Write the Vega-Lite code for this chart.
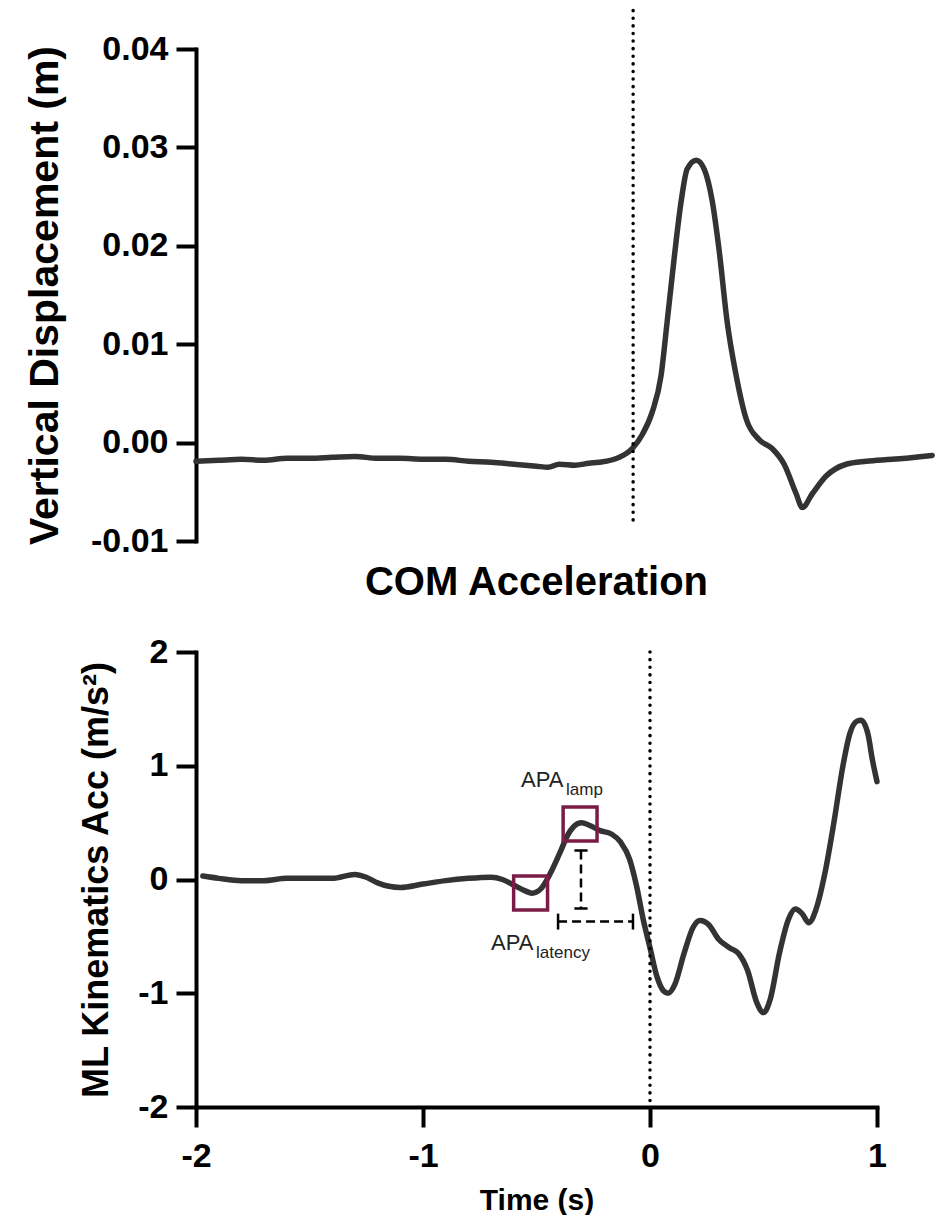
{
  "$schema": "https://vega.github.io/schema/vega-lite/v6.json",
  "background": "white",
  "padding": {"left": 24, "top": 8, "right": 0, "bottom": 0},
  "spacing": 5,
  "config": {
    "view": {"stroke": null},
    "font": "Liberation Sans",
    "axis": {
      "domainColor": "black", "domainWidth": 4, "domainCap": "square",
      "tickColor": "black", "tickWidth": 4, "tickSize": 20,
      "labelFont": "Liberation Sans", "labelFontWeight": "bold", "labelFontSize": 34, "labelColor": "black",
      "titleFont": "Liberation Sans", "titleFontWeight": "bold", "titleColor": "black",
      "grid": false, "labelFlush": false, "labelOverlap": false
    }
  },
  "datasets": {
    "disp": [
      {"t": -2.0, "v": -0.0019}, {"t": -1.9, "v": -0.0018}, {"t": -1.8, "v": -0.0017}, {"t": -1.7, "v": -0.0018},
      {"t": -1.6, "v": -0.0016}, {"t": -1.5, "v": -0.0016}, {"t": -1.4, "v": -0.0015}, {"t": -1.3, "v": -0.0014},
      {"t": -1.2, "v": -0.0016}, {"t": -1.1, "v": -0.0016}, {"t": -1.0, "v": -0.0017}, {"t": -0.9, "v": -0.0017},
      {"t": -0.8, "v": -0.0019}, {"t": -0.7, "v": -0.002}, {"t": -0.6, "v": -0.0022}, {"t": -0.5, "v": -0.0024},
      {"t": -0.45, "v": -0.0025}, {"t": -0.4, "v": -0.0022}, {"t": -0.33, "v": -0.0023}, {"t": -0.27, "v": -0.0021},
      {"t": -0.225, "v": -0.002}, {"t": -0.137, "v": -0.0015}, {"t": -0.079, "v": -0.0006}, {"t": -0.035, "v": 0.0008},
      {"t": 0.009, "v": 0.0031}, {"t": 0.048, "v": 0.0068}, {"t": 0.075, "v": 0.0123}, {"t": 0.106, "v": 0.0188},
      {"t": 0.137, "v": 0.0246}, {"t": 0.163, "v": 0.0278}, {"t": 0.203, "v": 0.0287}, {"t": 0.238, "v": 0.0278},
      {"t": 0.273, "v": 0.0246}, {"t": 0.304, "v": 0.0195}, {"t": 0.339, "v": 0.0123}, {"t": 0.379, "v": 0.0068},
      {"t": 0.423, "v": 0.0024}, {"t": 0.48, "v": 0.0003}, {"t": 0.537, "v": -0.0006}, {"t": 0.59, "v": -0.0022},
      {"t": 0.643, "v": -0.0052}, {"t": 0.67, "v": -0.0066}, {"t": 0.714, "v": -0.0052}, {"t": 0.775, "v": -0.0034},
      {"t": 0.863, "v": -0.0022}, {"t": 0.952, "v": -0.0019}, {"t": 1.066, "v": -0.0017}, {"t": 1.242, "v": -0.0013}
    ],
    "dispMarker": [{"t": -0.075, "v": 0.0439, "v2": -0.0079}],
    "acc": [
      {"t": -1.97, "v": 0.03}, {"t": -1.9, "v": 0.01}, {"t": -1.8, "v": -0.01}, {"t": -1.7, "v": -0.01},
      {"t": -1.6, "v": 0.01}, {"t": -1.5, "v": 0.01}, {"t": -1.4, "v": 0.01}, {"t": -1.3, "v": 0.045},
      {"t": -1.25, "v": 0.02}, {"t": -1.2, "v": -0.03}, {"t": -1.1, "v": -0.07}, {"t": -1.0, "v": -0.04},
      {"t": -0.9, "v": -0.01}, {"t": -0.8, "v": 0.01}, {"t": -0.7, "v": 0.02}, {"t": -0.65, "v": 0.0},
      {"t": -0.6, "v": -0.05}, {"t": -0.55, "v": -0.1}, {"t": -0.52, "v": -0.12}, {"t": -0.48, "v": -0.08},
      {"t": -0.44, "v": 0.05}, {"t": -0.4, "v": 0.22}, {"t": -0.36, "v": 0.4}, {"t": -0.32, "v": 0.49},
      {"t": -0.3, "v": 0.5}, {"t": -0.26, "v": 0.47}, {"t": -0.22, "v": 0.43}, {"t": -0.17, "v": 0.4},
      {"t": -0.13, "v": 0.33}, {"t": -0.09, "v": 0.18}, {"t": -0.06, "v": -0.05}, {"t": -0.03, "v": -0.35},
      {"t": 0.0, "v": -0.6}, {"t": 0.03, "v": -0.85}, {"t": 0.06, "v": -0.98}, {"t": 0.08, "v": -1.0},
      {"t": 0.11, "v": -0.92}, {"t": 0.15, "v": -0.65}, {"t": 0.19, "v": -0.42}, {"t": 0.22, "v": -0.36},
      {"t": 0.26, "v": -0.4}, {"t": 0.3, "v": -0.52}, {"t": 0.35, "v": -0.6}, {"t": 0.39, "v": -0.65},
      {"t": 0.43, "v": -0.8}, {"t": 0.47, "v": -1.08}, {"t": 0.5, "v": -1.17}, {"t": 0.53, "v": -1.05},
      {"t": 0.57, "v": -0.65}, {"t": 0.61, "v": -0.35}, {"t": 0.64, "v": -0.26}, {"t": 0.67, "v": -0.3},
      {"t": 0.7, "v": -0.38}, {"t": 0.73, "v": -0.27}, {"t": 0.77, "v": 0.05}, {"t": 0.81, "v": 0.5},
      {"t": 0.85, "v": 1.0}, {"t": 0.88, "v": 1.28}, {"t": 0.91, "v": 1.39}, {"t": 0.93, "v": 1.4},
      {"t": 0.96, "v": 1.28}, {"t": 0.98, "v": 1.05}, {"t": 1.0, "v": 0.86}
    ],
    "accMarker": [{"t": 0, "v": 2, "v2": -2}],
    "boxes": [{"t": -0.526, "v": -0.119}, {"t": -0.308, "v": 0.488}],
    "dashSegs": [
      {"t": -0.304, "t2": -0.304, "v": 0.255, "v2": -0.255},
      {"t": -0.405, "t2": -0.075, "v": -0.369, "v2": -0.369}
    ],
    "caps": [
      {"t": -0.333, "t2": -0.275, "v": 0.255, "v2": 0.255},
      {"t": -0.333, "t2": -0.275, "v": -0.255, "v2": -0.255},
      {"t": -0.405, "t2": -0.405, "v": -0.3, "v2": -0.44},
      {"t": -0.075, "t2": -0.075, "v": -0.3, "v2": -0.44}
    ],
    "labelsMain": [{"t": -0.568, "v": 0.809, "text": "APA"}, {"t": -0.7, "v": -0.624, "text": "APA"}],
    "labelsSub": [{"t": -0.37, "v": 0.74, "text": "lamp"}, {"t": -0.502, "v": -0.686, "text": "latency"}]
  },
  "vconcat": [
    {
      "width": 738,
      "height": 492,
      "layer": [
        {
          "data": {"name": "disp"},
          "mark": {"type": "line", "color": "#333333", "strokeWidth": 5.5, "strokeCap": "round", "strokeJoin": "round", "interpolate": "monotone"},
          "encoding": {
            "x": {"field": "t", "type": "quantitative", "scale": {"domain": [-2, 1.25], "nice": false, "zero": false}, "axis": null},
            "y": {"field": "v", "type": "quantitative", "scale": {"domain": [-0.01, 0.04], "nice": false, "zero": false},
              "axis": {"values": [-0.01, 0, 0.01, 0.02, 0.03, 0.04], "format": ".2f", "labelExpr": "replace(datum.label, '−', '-')",
                "title": "Vertical Displacement (m)", "titleFontSize": 41, "titlePadding": 24, "labelPadding": 8}}
          }
        },
        {
          "data": {"name": "dispMarker"},
          "mark": {"type": "rule", "color": "black", "strokeWidth": 3.5, "strokeCap": "round", "strokeDash": [0.1, 7.5], "clip": false},
          "encoding": {
            "x": {"field": "t", "type": "quantitative"},
            "y": {"field": "v", "type": "quantitative"},
            "y2": {"field": "v2"}
          }
        }
      ]
    },
    {
      "width": 681,
      "height": 455,
      "title": {"text": "COM Acceleration", "fontSize": 40, "fontWeight": "bold", "font": "Liberation Sans", "color": "black", "anchor": "middle", "frame": "group", "baseline": "alphabetic", "offset": 0},
      "layer": [
        {
          "data": {"name": "acc"},
          "mark": {"type": "line", "color": "#333333", "strokeWidth": 5.5, "strokeCap": "round", "strokeJoin": "round", "interpolate": "monotone"},
          "encoding": {
            "x": {"field": "t", "type": "quantitative", "scale": {"domain": [-2, 1], "nice": false, "zero": false},
              "axis": {"values": [-2, -1, 0, 1], "format": "d", "labelExpr": "replace(datum.label, '−', '-')",
                "title": "Time (s)", "titleFontSize": 30, "labelPadding": 12, "titlePadding": 12}},
            "y": {"field": "v", "type": "quantitative", "scale": {"domain": [-2, 2], "nice": false, "zero": false},
              "axis": {"values": [-2, -1, 0, 1, 2], "format": "d", "labelExpr": "replace(datum.label, '−', '-')",
                "title": "ML Kinematics Acc (m/s²)", "titleFontSize": 36, "titlePadding": 22, "labelPadding": 8}}
          }
        },
        {
          "data": {"name": "accMarker"},
          "mark": {"type": "rule", "color": "black", "strokeWidth": 3.5, "strokeCap": "round", "strokeDash": [0.1, 7.5], "clip": false},
          "encoding": {
            "x": {"field": "t", "type": "quantitative"},
            "y": {"field": "v", "type": "quantitative"},
            "y2": {"field": "v2"}
          }
        },
        {
          "data": {"name": "boxes"},
          "mark": {"type": "point", "shape": "square", "filled": false, "size": 1150, "stroke": "#7b1c46", "strokeWidth": 3.5, "opacity": 1},
          "encoding": {
            "x": {"field": "t", "type": "quantitative"},
            "y": {"field": "v", "type": "quantitative"}
          }
        },
        {
          "data": {"name": "dashSegs"},
          "mark": {"type": "rule", "color": "black", "strokeWidth": 2.5, "strokeDash": [9, 5]},
          "encoding": {
            "x": {"field": "t", "type": "quantitative"},
            "x2": {"field": "t2"},
            "y": {"field": "v", "type": "quantitative"},
            "y2": {"field": "v2"}
          }
        },
        {
          "data": {"name": "caps"},
          "mark": {"type": "rule", "color": "black", "strokeWidth": 2.5},
          "encoding": {
            "x": {"field": "t", "type": "quantitative"},
            "x2": {"field": "t2"},
            "y": {"field": "v", "type": "quantitative"},
            "y2": {"field": "v2"}
          }
        },
        {
          "data": {"name": "labelsMain"},
          "mark": {"type": "text", "align": "left", "baseline": "alphabetic", "fontSize": 22, "font": "Liberation Sans", "color": "#222222"},
          "encoding": {
            "x": {"field": "t", "type": "quantitative"},
            "y": {"field": "v", "type": "quantitative"},
            "text": {"field": "text"}
          }
        },
        {
          "data": {"name": "labelsSub"},
          "mark": {"type": "text", "align": "left", "baseline": "alphabetic", "fontSize": 17, "font": "Liberation Sans", "color": "#222222"},
          "encoding": {
            "x": {"field": "t", "type": "quantitative"},
            "y": {"field": "v", "type": "quantitative"},
            "text": {"field": "text"}
          }
        }
      ]
    }
  ]
}
